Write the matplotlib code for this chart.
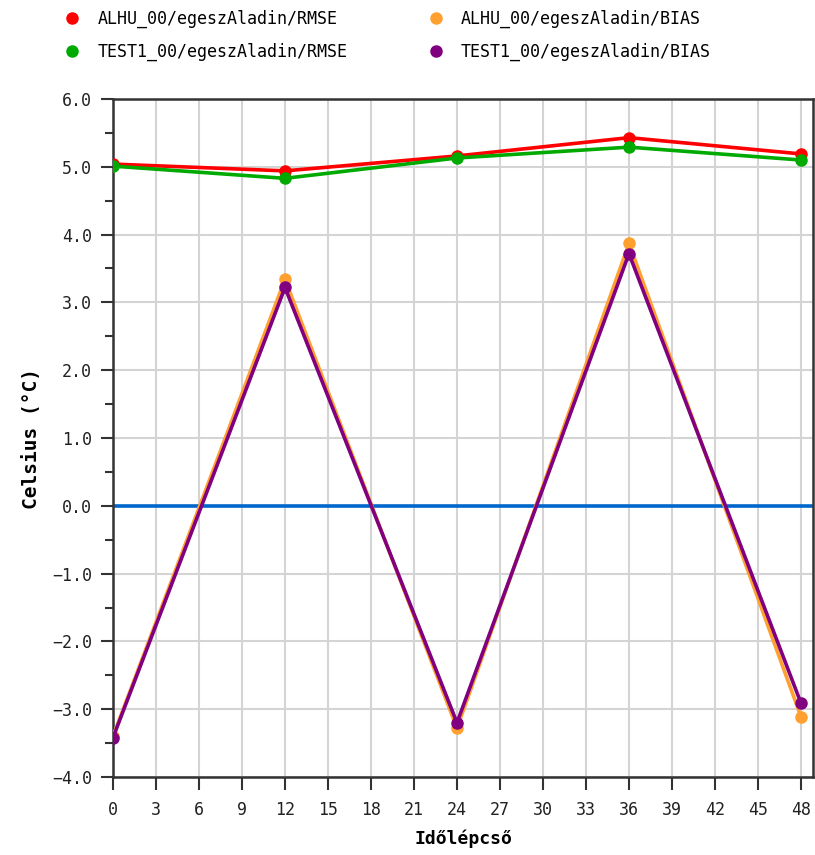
import matplotlib
matplotlib.use("Agg")
import matplotlib.pyplot as plt
from matplotlib.lines import Line2D
from matplotlib.ticker import MultipleLocator

steps = [0, 12, 24, 36, 48]
alhu_rmse = [5.04, 4.94, 5.16, 5.43, 5.19]
test1_rmse = [5.01, 4.83, 5.13, 5.29, 5.10]
alhu_bias = [-3.40, 3.34, -3.28, 3.87, -3.11]
test1_bias = [-3.42, 3.22, -3.20, 3.72, -2.91]

series = [
    ("ALHU_00/egeszAladin/RMSE", alhu_rmse, "#ff0000"),
    ("TEST1_00/egeszAladin/RMSE", test1_rmse, "#00aa00"),
    ("ALHU_00/egeszAladin/BIAS", alhu_bias, "#ffa030"),
    ("TEST1_00/egeszAladin/BIAS", test1_bias, "#800080"),
]

xticks = list(range(0, 49, 3))
yticks = [-4.0, -3.0, -2.0, -1.0, 0.0, 1.0, 2.0, 3.0, 4.0, 5.0, 6.0]

plt.rcParams['font.family'] = ['DejaVu Sans Mono', 'DejaVu Sans']

fig = plt.figure(figsize=(8.15, 8.55), dpi=100)
ax = fig.add_axes([113/815, 1-777/855, 700/815, 678/855])

ax.axhline(0, color="#0066cc", lw=2.6, zorder=2)
for name, vals, col in series:
    ax.plot(steps, vals, color=col, lw=2.6, marker='o', ms=8, zorder=3)

ax.set_xlim(0, 48.84)
ax.set_ylim(-4, 6)
ax.set_xticks(xticks)
ax.set_xticklabels([str(t) for t in xticks])
ax.set_yticks(yticks)
ax.set_yticklabels([f"{t:.1f}".replace("-", "\u2212") for t in yticks])
ax.yaxis.set_minor_locator(MultipleLocator(0.5))
ax.grid(True, which='major', color='#d4d4d4', lw=1.5, zorder=0)
ax.set_axisbelow(True)
for s in ax.spines.values():
    s.set_color('#333333')
    s.set_linewidth(1.8)
ax.tick_params(axis='both', which='major', direction='out', length=9, width=1.5,
               color='#333333', labelsize=12, labelcolor='#222222', pad=6)
ax.tick_params(axis='y', which='minor', direction='out', length=6, width=1.5, color='#333333')
ax.tick_params(axis='x', pad=8)

ax.set_xlabel("Időlépcső", fontsize=13, fontweight='bold', labelpad=8)
ax.set_ylabel("Celsius (°C)", fontsize=14, fontweight='bold', labelpad=8)

handles = [Line2D([], [], color=c, marker='o', ls='none', ms=8) for _, _, c in series]
labels = [n for n, _, _ in series]
fig.legend(handles, labels, loc='upper left', bbox_to_anchor=(0.06, 1.006), ncol=2,
           frameon=False, fontsize=12, columnspacing=4.8, handletextpad=1.0,
           labelspacing=0.9, handlelength=1.0)

fig.savefig("out.png", dpi=100)
